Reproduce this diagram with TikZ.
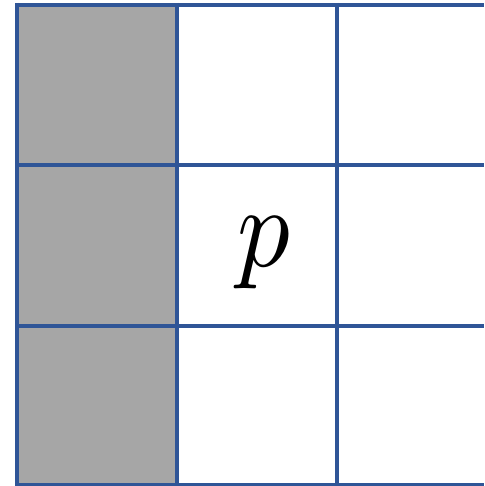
\documentclass[tikz,border=0pt]{standalone}
\usepackage{tikz}
\definecolor{gridblue}{HTML}{2F5597}
\definecolor{cellgrey}{HTML}{A6A6A6}

\begin{document}
\begin{tikzpicture}[x=1pt,y=-1pt,
        gl/.style={draw=gridblue,line width=4pt},
        lbl/.style={xscale=10.5,yscale=11.5,inner sep=0pt}]
      \useasboundingbox (0,0) rectangle (484,486);
      \fill[cellgrey] (17,5) rectangle (177,485);
      \foreach \y in {5,165.5,326,485}
        \draw[gl] (15,\y) -- (484,\y);
      \foreach \x in {17,177,337}
        \draw[gl] (\x,3) -- (\x,487);
      \node[lbl] (p) at (264,253) {$p$};
    \end{tikzpicture}
\end{document}
